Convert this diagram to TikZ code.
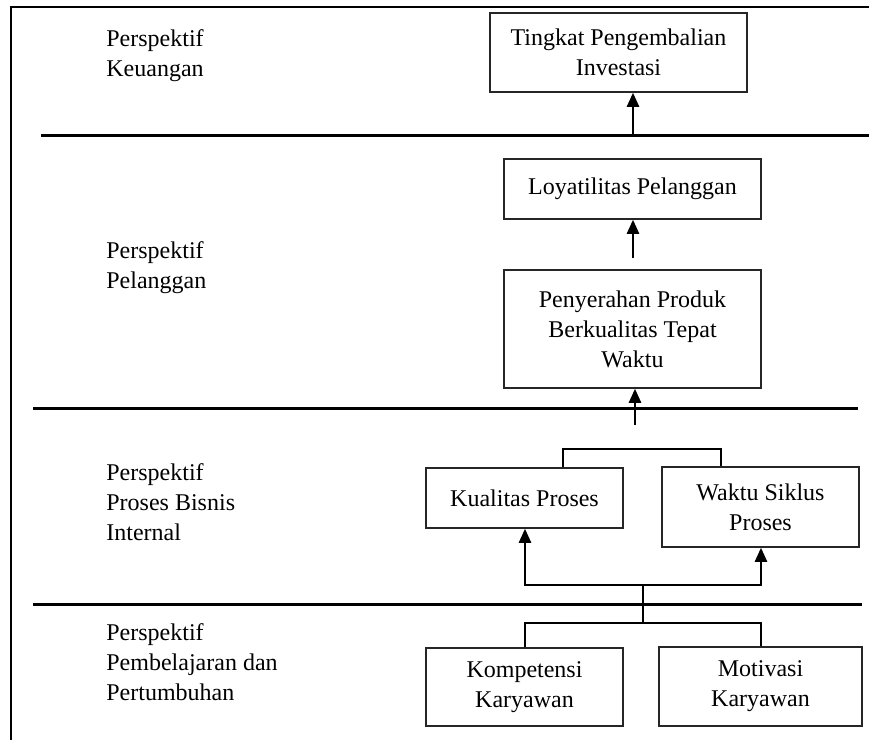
\documentclass[tikz,border=0pt]{standalone}
\usepackage{fontspec}
\setmainfont{Liberation Serif}
\usetikzlibrary{arrows.meta}
\begin{document}
\begin{tikzpicture}[x=0.5pt,y=-0.5pt,
  txt/.style={font=\fontsize{12}{15}\selectfont},
  box/.style={draw=black!85,line width=0.75pt,txt,align=center,inner sep=0pt},
  lbl/.style={txt,align=left,anchor=west,inner sep=0pt},
  sep/.style={line width=1.5pt},
  frm/.style={line width=1.3pt},
  arr/.style={line width=1.2pt,-{Triangle[length=7pt,width=6pt]}},
  ln/.style={line width=1.2pt}]
\useasboundingbox (0,0) rectangle (869,740);
% frame
\draw[frm] (11,740) -- (11,7) -- (869,7);
% separators
\draw[sep] (41,135) -- (869,135);
\draw[sep] (33,408) -- (858,408);
\draw[sep] (33,604) -- (862,604);
% left labels
\node[lbl] (lk) at (106,56) {Perspektif\\Keuangan};
\node[lbl] (lp) at (106,267.5) {Perspektif\\Pelanggan};
\node[lbl] (li) at (106,502.5) {Perspektif\\Proses Bisnis\\Internal};
\node[lbl] (lb) at (106,662.5) {Perspektif\\Pembelajaran dan\\Pertumbuhan};
% boxes
\node[box,minimum width=128.5pt,minimum height=39.5pt] (b1) at (618.5,52.5) {Tingkat Pengembalian\\Investasi};
\node[box,minimum width=128.5pt,minimum height=30pt] (b2) at (632.5,189) {Loyatilitas Pelanggan};
\node[box,minimum width=128.5pt,minimum height=59pt] (b3) at (632.5,329) {Penyerahan Produk\\Berkualitas Tepat\\Waktu};
\node[box,minimum width=98.5pt,minimum height=30pt] (b4) at (524.5,498) {Kualitas Proses};
\node[box,minimum width=98.5pt,minimum height=40pt] (b5) at (760.5,507) {Waktu Siklus\\Proses};
\node[box,minimum width=98.5pt,minimum height=39pt] (b6) at (524.5,687) {Kompetensi\\Karyawan};
\node[box,minimum width=101.5pt,minimum height=39.5pt] (b7) at (760.5,686.5) {Motivasi\\Karyawan};
% connectors
\coordinate (c1) at (633,135);
\draw[arr] (c1) -- (c1 |- b1.south);
\coordinate (c2) at (633,258);
\draw[arr] (c2) -- (c2 |- b2.south);
\coordinate (c3) at (635,425);
\draw[arr] (c3) -- (c3 |- b3.south);
\coordinate (k1) at (563,449);
\coordinate (k2) at (721,449);
\draw[ln] (k1 |- b4.north) -- (k1) -- (k2) -- (k2 |- b5.north);
\coordinate (j) at (643,585);
\coordinate (jl) at (525,585);
\coordinate (jr) at (761,585);
\draw[arr] (j) -- (jl) -- (jl |- b4.south);
\draw[arr] (j) -- (jr) -- (jr |- b5.south);
\coordinate (m) at (643,623);
\coordinate (ml) at (525,623);
\coordinate (mr) at (761,623);
\draw[ln] (j) -- (m);
\draw[ln] (ml |- b6.north) -- (ml) -- (mr) -- (mr |- b7.north);
\end{tikzpicture}
\end{document}
